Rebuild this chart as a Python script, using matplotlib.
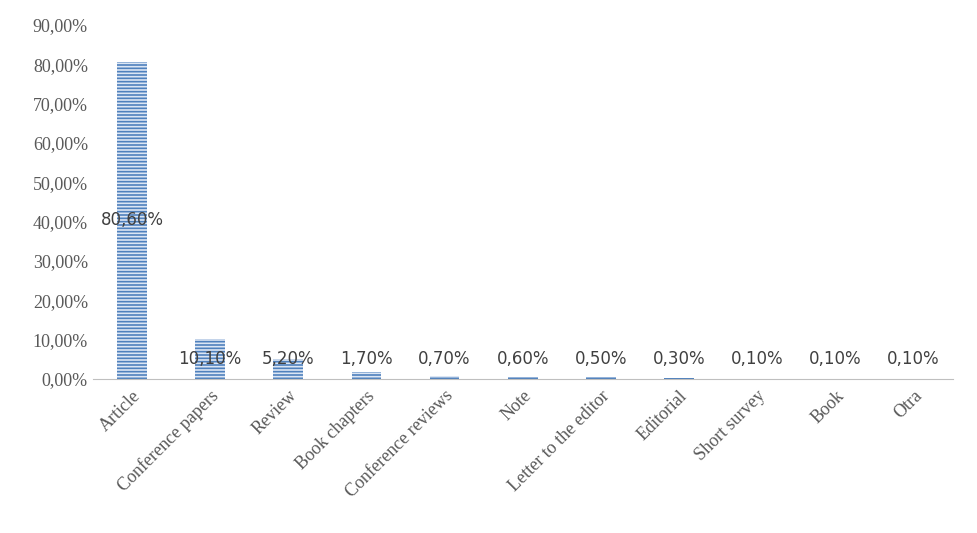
import matplotlib
matplotlib.use("Agg")
import matplotlib.pyplot as plt
import matplotlib as mpl

categories = ["Article", "Conference papers", "Review", "Book chapters", "Conference reviews",
              "Note", "Letter to the editor", "Editorial", "Short survey", "Book", "Otra"]
values = [80.6, 10.1, 5.2, 1.7, 0.7, 0.6, 0.5, 0.3, 0.1, 0.1, 0.1]
yticks = [0, 10, 20, 30, 40, 50, 60, 70, 80, 90]

def pct(v):
    return f"{v:.2f}".replace(".", ",") + "%"

mpl.rcParams['hatch.linewidth'] = 1.2
fig = plt.figure(figsize=(9.77, 5.33), dpi=100)
ax = fig.add_axes([0.095, 0.289, 0.88, 0.664])
x = range(len(categories))
bars = ax.bar(x, values, width=0.38, color="#dce6f4", edgecolor="#4f81bd", hatch="-----", linewidth=0)
for i, v in zip(x, values):
    ypos = v / 2 if v > 50 else 5.0
    ax.text(i, ypos, pct(v), ha="center", va="center", fontsize=12, color="#404040",
            family="DejaVu Sans")
ax.set_xlim(-0.5, len(categories) - 0.5)
ax.set_ylim(0, 90)
ax.set_yticks(yticks)
ax.set_yticklabels([pct(v) for v in yticks], fontsize=13, color="#595959", family="Liberation Serif")
ax.set_xticks(list(x))
ax.set_xticklabels(categories, rotation=45, ha="right", rotation_mode="anchor",
                   fontsize=13, color="#595959", family="Liberation Serif")
for s in ["top", "right", "left"]:
    ax.spines[s].set_visible(False)
ax.spines["bottom"].set_color("#bfbfbf")
ax.tick_params(axis="both", length=0)
ax.tick_params(axis="x", pad=6)
fig.savefig("out.png", dpi=100)
